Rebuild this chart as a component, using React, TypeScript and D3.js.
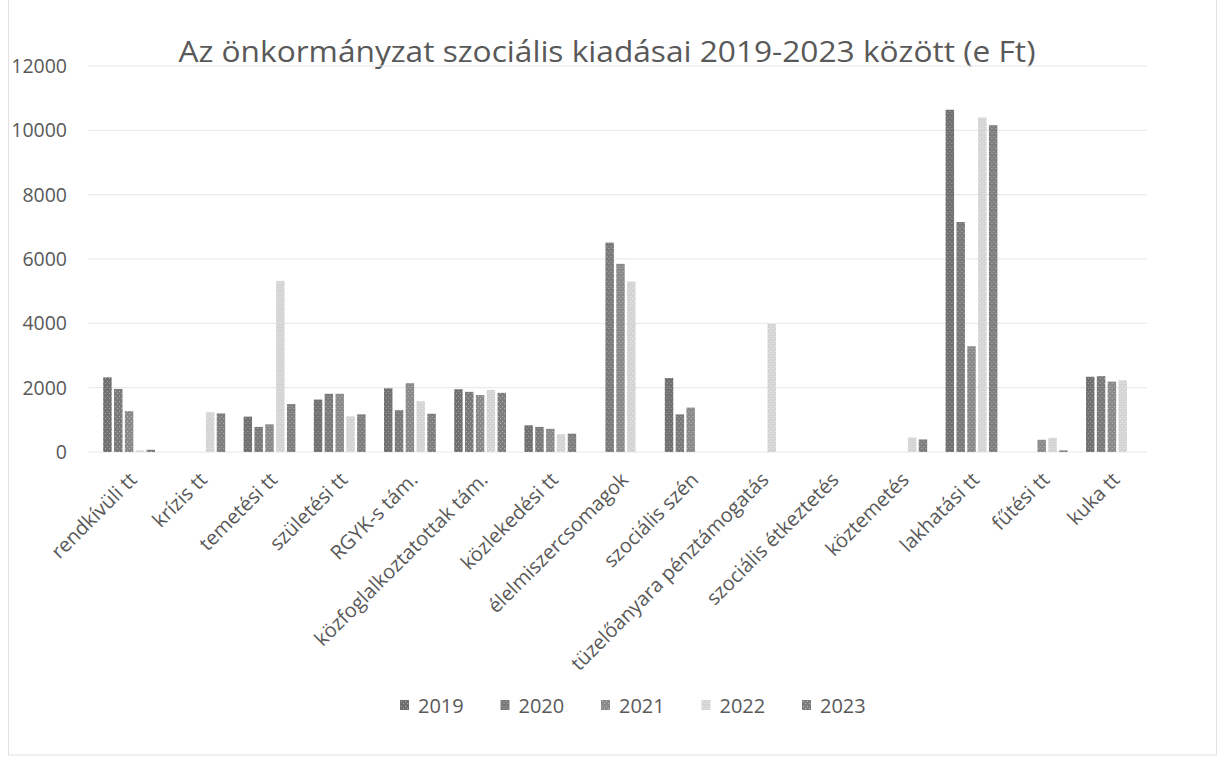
import React from 'react';
import * as d3 from 'd3';

const categories = [
  'rendkívüli tt', 'krízis tt', 'temetési tt', 'születési tt', 'RGYK-s tám.',
  'közfoglalkoztatottak tám.', 'közlekedési tt', 'élelmiszercsomagok', 'szociális szén',
  'tüzelőanyara pénztámogatás', 'szociális étkeztetés', 'köztemetés', 'lakhatási tt',
  'fűtési tt', 'kuka tt',
];
const years = ['2019', '2020', '2021', '2022', '2023'];

const v2019 = [2320, 0, 1100, 1630, 1980, 1950, 830, 0, 2300, 0, 0, 0, 10640, 0, 2340];
const v2020 = [1960, 0, 780, 1810, 1300, 1870, 780, 6510, 1170, 0, 0, 0, 7150, 0, 2360];
const v2021 = [1270, 0, 860, 1810, 2140, 1770, 720, 5850, 1380, 0, 0, 0, 3290, 380, 2190];
const v2022 = [50, 1240, 5320, 1110, 1580, 1930, 550, 5300, 0, 3980, 0, 450, 10400, 440, 2230];
const v2023 = [70, 1200, 1490, 1170, 1190, 1840, 570, 0, 0, 0, 0, 390, 10160, 50, 0];
const series = [v2019, v2020, v2021, v2022, v2023];

const yTicks = [0, 2000, 4000, 6000, 8000, 10000, 12000];
const colors = ['#707070', '#7a7a7a', '#8a8a8a', '#d4d4d4', '#7e7e7e'];
const specks = ['#a8a8a8', '#b0b0b0', '#bcbcbc', '#ececec', '#b4b4b4'];

const W = 1219;
const H = 759;
const left = 94;
const right = 1147;
const top = 66;
const bottom = 452;
const font = "'Open Sans', 'Liberation Sans', sans-serif";
const textColor = '#595959';

export default function App() {
  const x0 = d3.scaleBand<string>().domain(categories).range([left, right]).padding(0);
  const x1 = d3.scaleBand<string>().domain(years).range([0, x0.bandwidth()])
    .paddingInner(0.22).paddingOuter(0.85);
  const y = d3.scaleLinear().domain([0, 12000]).range([bottom, top]);

  return (
    <svg width={W} height={H} style={{ position: 'absolute', left: 0, top: 0 }}>
      <defs>
        {colors.map((c, k) => (
          // szkennelt nyomtatás hatása: alapszín + világos pöttyök
          <pattern key={k} id={`pat${k}`} width={4} height={5} patternUnits="userSpaceOnUse">
            <rect width={4} height={5} fill={c} />
            <rect x={1} y={1} width={1} height={1} fill={specks[k]} />
            <rect x={3} y={3} width={1} height={1} fill={specks[k]} />
          </pattern>
        ))}
      </defs>
      <rect x={0} y={0} width={W} height={H} fill="#fff" />
      <rect x={8.5} y={-1} width={1208} height={756} fill="none" stroke="#e2e2e2" />

      <text x={607} y={62} textAnchor="middle" fontFamily={font} fontSize={29}
        textLength={857} lengthAdjust="spacingAndGlyphs" fill={textColor}>
        Az önkormányzat szociális kiadásai 2019-2023 között (e Ft)
      </text>

      {yTicks.map((t) => (
        <g key={t}>
          <line x1={88} x2={right} y1={y(t)} y2={y(t)} stroke="#e6e6e6" strokeWidth={1} />
          <text x={67} y={y(t) + 7} textAnchor="end" fontFamily={font} fontSize={19.5} fill={textColor}>
            {t}
          </text>
        </g>
      ))}

      {categories.map((c, i) => (
        <g key={c} transform={`translate(${x0(c)},0)`}>
          {series.map((s, k) => (
            s[i] > 0 ? (
              <rect
                key={years[k]}
                x={x1(years[k])}
                y={y(s[i])}
                width={x1.bandwidth()}
                height={bottom - y(s[i])}
                fill={`url(#pat${k})`}
              />
            ) : null
          ))}
        </g>
      ))}

      {categories.map((c) => {
        const cx = (x0(c) as number) + x0.bandwidth() / 2 + 9;
        const cy = 481;
        return (
          <text
            key={c}
            x={cx}
            y={cy}
            textAnchor="end"
            fontFamily={font}
            fontSize={20}
            fill={textColor}
            transform={`rotate(-45 ${cx} ${cy})`}
          >
            {c}
          </text>
        );
      })}

      {years.map((yr, k) => (
        <g key={yr} transform={`translate(${400 + k * 100.5},0)`}>
          <rect x={0} y={700} width={9} height={10} fill={`url(#pat${k})`} />
          <text x={18} y={713} fontFamily={font} fontSize={20} fill={textColor}>{yr}</text>
        </g>
      ))}
    </svg>
  );
}
